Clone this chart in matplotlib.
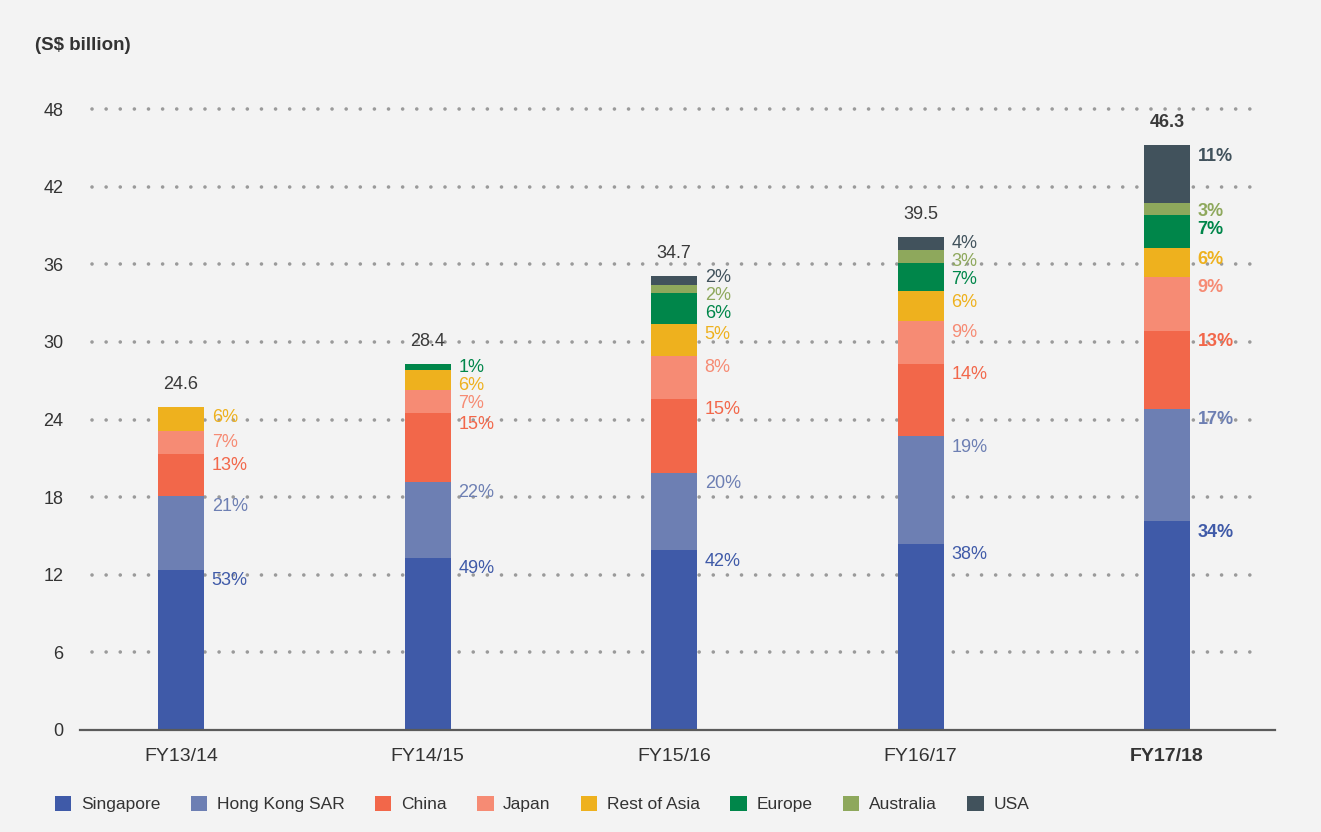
import numpy as np
import matplotlib
matplotlib.use("Agg")
import matplotlib.pyplot as plt

plt.rcParams['font.family'] = ['Liberation Sans', 'DejaVu Sans']

# ---- data ----
years = ["FY13/14", "FY14/15", "FY15/16", "FY16/17", "FY17/18"]
totals = ["24.6", "28.4", "34.7", "39.5", "46.3"]
regions = ["Singapore", "Hong Kong SAR", "China", "Japan", "Rest of Asia", "Europe", "Australia", "USA"]

singapore = [12.4, 13.3, 13.9, 14.4, 16.15]
hong_kong = [5.7, 5.9, 6.0, 8.3, 8.7]
china = [3.2, 5.3, 5.7, 5.6, 6.0]
japan = [1.8, 1.8, 3.3, 3.3, 4.2]
rest_of_asia = [1.9, 1.55, 2.5, 2.3, 2.2]
europe = [0.0, 0.45, 2.4, 2.2, 2.55]
australia = [0.0, 0.0, 0.6, 1.0, 0.9]
usa = [0.0, 0.0, 0.7, 1.0, 4.5]

pct_singapore = [53, 49, 42, 38, 34]
pct_hong_kong = [21, 22, 20, 19, 17]
pct_china = [13, 15, 15, 14, 13]
pct_japan = [7, 7, 8, 9, 9]
pct_rest_of_asia = [6, 6, 5, 6, 6]
pct_europe = [None, 1, 6, 7, 7]
pct_australia = [None, None, 2, 3, 3]
pct_usa = [None, None, 2, 4, 11]

colors = ["#3f5aa8", "#6d7fb3", "#f2674a", "#f68b74", "#eeb11e", "#00864a", "#8ea85c", "#41525c"]

series = [singapore, hong_kong, china, japan, rest_of_asia, europe, australia, usa]
pcts = [pct_singapore, pct_hong_kong, pct_china, pct_japan, pct_rest_of_asia,
        pct_europe, pct_australia, pct_usa]

# ---- figure ----
W, H, DPI = 1321, 832, 100
fig = plt.figure(figsize=(W / DPI, H / DPI), dpi=DPI)
fig.patch.set_facecolor("#f3f3f3")

ax_left, ax_right, ax_bottom, ax_top = 80, 1275, 730, 60
ax = fig.add_axes([ax_left / W, (H - ax_bottom) / H, (ax_right - ax_left) / W, (ax_bottom - ax_top) / H])
ax.set_facecolor("#f3f3f3")

px_per_x = 246.5
x0_px = 181
ax.set_xlim((ax_left - x0_px) / px_per_x, (ax_right - x0_px) / px_per_x)
px_per_y = (730 - 109) / 48.0
ax.set_ylim(0, (ax_bottom - ax_top) / px_per_y)

x = np.arange(len(years))
width = 46 / px_per_x

# gridlines
yt = np.arange(0, 49, 6)
for yv in yt[1:]:
    ax.plot([(92 - x0_px) / px_per_x, (1258 - x0_px) / px_per_x], [yv, yv],
            color="#9a9a9a", lw=2.6, linestyle=(0, (0.01, 3.9)), dash_capstyle="round",
            zorder=1)

bottoms = np.zeros(len(years))
tops_by_series = []
for vals, col, name in zip(series, colors, regions):
    v = np.array(vals, dtype=float)
    ax.bar(x, v, width=width, bottom=bottoms, color=col, label=name, zorder=2, linewidth=0)
    tops_by_series.append(bottoms + v)
    bottoms = bottoms + v

# percentage labels with overlap resolution
off = 11 / px_per_y
sp = 18 / px_per_y
for i in range(len(years)):
    items = []
    for s in range(len(series) - 1, -1, -1):
        p = pcts[s][i]
        if p is None:
            continue
        items.append((tops_by_series[s][i] - off, s, p))
    clusters = []
    for d, s, p in items:
        clusters.append([(d, s, p)])
        while len(clusters) > 1:
            prev, cur = clusters[-2], clusters[-1]
            merged = prev + cur
            c0p = np.mean([it[0] + k * sp for k, it in enumerate(prev)])
            c0c = np.mean([it[0] + k * sp for k, it in enumerate(cur)])
            prev_bottom = c0p - (len(prev) - 1) * sp
            if prev_bottom - c0c < sp:
                clusters[-2:] = [merged]
            else:
                break
    bold = (i == len(years) - 1)
    for cl in clusters:
        c0 = np.mean([it[0] + k * sp for k, it in enumerate(cl)])
        for k, (d, s, p) in enumerate(cl):
            ax.annotate(f"{p}%", xy=(x[i] + width / 2, c0 - k * sp), xytext=(5.5, 0),
                        textcoords="offset points", ha="left", va="center",
                        fontsize=13, color=colors[s],
                        fontweight="bold" if bold else "normal", zorder=3)

# total labels
for i in range(len(years)):
    ax.annotate(totals[i], xy=(x[i], bottoms[i]), xytext=(0, 10), textcoords="offset points",
                ha="center", va="bottom", fontsize=13, color="#3a3a3a",
                fontweight="bold" if i == len(years) - 1 else "normal")

# axes styling
for sp_name in ["top", "right", "left"]:
    ax.spines[sp_name].set_visible(False)
ax.spines["bottom"].set_color("#5a5a5a")
ax.spines["bottom"].set_linewidth(1.6)
ax.set_yticks(yt)
ax.set_yticklabels([str(v) for v in yt])
ax.set_xticks(x)
ax.set_xticklabels(years)
ax.tick_params(axis="y", length=0, pad=12, labelsize=13, labelcolor="#333333")
ax.tick_params(axis="x", length=0, pad=13, labelsize=14, labelcolor="#333333")
for lbl in ax.get_xticklabels():
    if lbl.get_text() == years[-1]:
        lbl.set_fontweight("bold")

fig.text(35 / W, 1 - 45 / H, "(S$ billion)", fontsize=13.5, fontweight="bold",
         color="#333333", ha="left", va="center")

handles, labels = ax.get_legend_handles_labels()
leg = fig.legend(handles, labels, loc="center left", bbox_to_anchor=(55 / W, 1 - 804 / H),
                 ncol=8, frameon=False, fontsize=12.5, handlelength=0.95, handleheight=0.95,
                 handletextpad=0.55, columnspacing=1.75, borderpad=0, borderaxespad=0)
for t in leg.get_texts():
    t.set_color("#333333")

fig.savefig("out.png", dpi=DPI, facecolor=fig.get_facecolor())
